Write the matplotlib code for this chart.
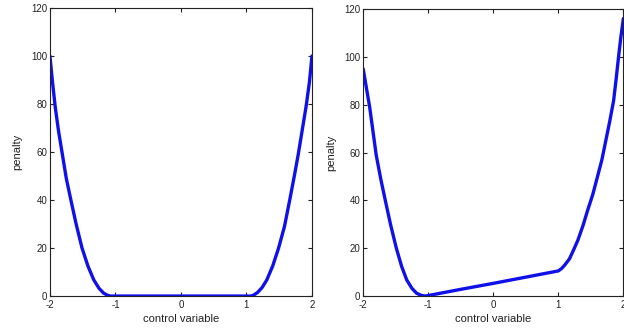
import matplotlib.pyplot as plt
import numpy as np

# values
x_left = [-2.0, -1.96, -1.92, -1.87, -1.81, -1.75, -1.68, -1.60, -1.51, -1.42,
          -1.33, -1.25, -1.18, -1.12, -1.08,
          1.07, 1.11, 1.17, 1.24, 1.31, 1.40, 1.49, 1.58, 1.66, 1.73, 1.79,
          1.85, 1.91, 1.96, 2.0]
y_left = [100, 89, 79, 69, 59, 49, 40, 30, 20, 12.5,
          6.7, 3.2, 1.2, 0.3, 0,
          0, 0.4, 1.5, 3.6, 6.7, 12.5, 20, 29, 40, 50, 59,
          69, 79, 89, 100]

x_right = [-2.0, -1.95, -1.90, -1.85, -1.80, -1.73, -1.66, -1.58, -1.49, -1.41,
           -1.33, -1.25, -1.18, -1.11, -1.05, -1.0,
           -0.5, 0.0, 0.5, 1.0, 1.05, 1.10, 1.17, 1.23, 1.30, 1.38, 1.45,
           1.53, 1.60, 1.67, 1.73, 1.79, 1.85, 1.89, 1.93, 1.96, 2.0]
y_right = [95, 87, 79, 69, 59, 49, 40, 30, 20, 12.5,
           6.7, 3.2, 1.2, 0.3, 0, 0.2,
           2.8, 5.3, 7.9, 10.5, 11.5, 13, 15.5, 19, 23.3, 29.5, 35.8,
           42.5, 49.7, 57, 65, 73, 81.7, 91, 101, 108, 116]

xticks = [-2, -1, 0, 1, 2]
yticks = [0, 20, 40, 60, 80, 100, 120]

plt.rcParams['font.family'] = ['Liberation Sans', 'DejaVu Sans']
plt.rcParams['axes.unicode_minus'] = False
fig = plt.figure(figsize=(6.24, 3.33), dpi=100)

ax1 = fig.add_axes([0.080, 0.111, 0.420, 0.865])
ax2 = fig.add_axes([0.582, 0.111, 0.417, 0.862])

for ax, xs, ys in [(ax1, x_left, y_left), (ax2, x_right, y_right)]:
    ax.plot(xs, ys, color='#1010e8', linewidth=2.4, solid_capstyle='round')
    ax.set_xlim(-2, 2)
    ax.set_ylim(0, 120)
    ax.set_xticks(xticks)
    ax.set_yticks(yticks)
    ax.tick_params(direction='in', length=3, width=0.8, labelsize=7,
                   top=True, right=True, colors='#222222', pad=2)
    ax.tick_params(axis='x', pad=3)
    for s in ax.spines.values():
        s.set_linewidth(0.8)
        s.set_color('#222222')
    ax.set_xlabel('control variable', fontsize=8, color='#222222', labelpad=3)
    ax.set_ylabel('penalty', fontsize=8, color='#222222', labelpad=6)

fig.savefig('out.png', dpi=100)
